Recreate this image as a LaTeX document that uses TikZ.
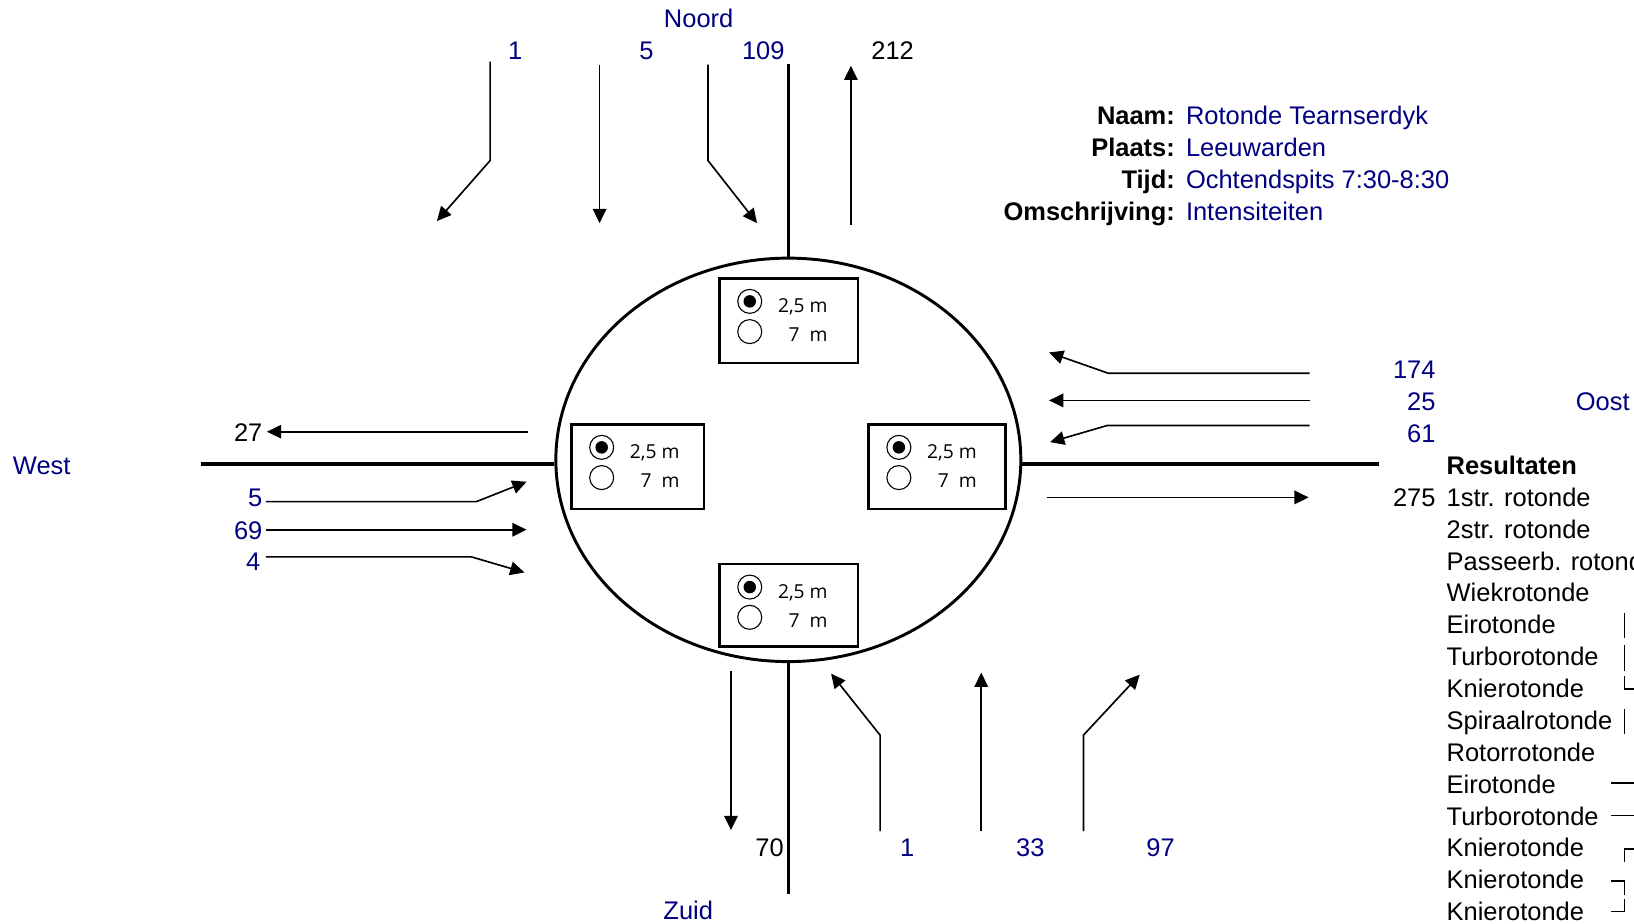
\documentclass[tikz,border=0pt]{standalone}
\usepackage{amsmath, tikz, bm, tkz-euclide}
\usepackage{fontspec}
\setmainfont{Liberation Sans}
\newfontfamily\maatfont{Open Sans}
\usetikzlibrary{arrows.meta, shapes.geometric}
\definecolor{blauw}{RGB}{0,0,128}

\newcommand{\rondje}[1]{%
  \node[radio] (#1a) at ([shift={(29,22)}]#1.north west) {};
  \node[radiodot] at (#1a) {};
  \node[radio] (#1b) at ([shift={(29,51)}]#1.north west) {};
  \node[maat, anchor=base east] at ([shift={(104,32.5)}]#1.north west) {2,5 m};
  \node[maat, anchor=base east] at ([shift={(104,60.5)}]#1.north west) {7\ \ m};
}

\begin{document}
\begin{tikzpicture}[x=0.02cm, y=-0.02cm,
    lbl/.style={font=\fontsize{13.9}{17}\selectfont, inner sep=0pt},
    num/.style={lbl, text=blauw},
    vet/.style={lbl, font=\fontsize{13.9}{17}\selectfont\bfseries},
    weg/.style={line width=1.7pt},
    stroom/.style={line width=0.9pt, -{Triangle[length=7.8pt, width=7.4pt]}},
    vak/.style={draw, line width=1.4pt, inner sep=0pt, outer sep=0pt, minimum height=1.62cm},
    radio/.style={draw, circle, line width=0.6pt, minimum size=0.46cm, inner sep=0pt},
    radiodot/.style={fill, circle, minimum size=0.24cm, inner sep=0pt},
    maat/.style={font=\maatfont\fontsize{10.5}{12}\selectfont, inner sep=0pt},
    teken/.style={line width=0.9pt}]
    \useasboundingbox (0,0) rectangle (1567,886);
    \clip (0,0) rectangle (1567,886);

    % rotonde en wegen
    \node[draw, ellipse, line width=1.6pt, minimum width=8.92cm, minimum height=7.74cm, inner sep=0pt] (ring) at (756,441) {};
    \tkzDefPoints{756/61/Nw, 756/857/Zw, 193/445/Ww, 1322/445/Ow}
    \draw[weg] (ring.north) -- (Nw);
    \draw[weg] (ring.south) -- (Zw);
    \draw[weg] (Ww) -- (Ww -| ring.west);
    \draw[weg] (Ow) -- (Ow -| ring.east);

    % rijstrookbreedtes
    \node[vak, minimum width=2.66cm] (vakN) at (756.5,307.5) {};
    \node[vak, minimum width=2.54cm] (vakW) at (611.5,447.5) {};
    \node[vak, minimum width=2.62cm] (vakO) at (898.5,447.5) {};
    \node[vak, minimum width=2.66cm, minimum height=1.58cm] (vakZ) at (756.5,580.5) {};
    \rondje{vakN}
    \rondje{vakW}
    \rondje{vakO}
    \rondje{vakZ}

    % noord
    \tkzDefPoints{470/59/N1a, 470/154/N1b, 419/212/N1c,
      575/62/N2a, 575/214/N2b,
      679/62/N3a, 679/154/N3b, 726/214/N3c,
      816/216/N4a, 816/63/N4b}
    \draw[stroom] (N1a) -- (N1b) -- (N1c);
    \draw[stroom] (N2a) -- (N2b);
    \draw[stroom] (N3a) -- (N3b) -- (N3c);
    \draw[stroom] (N4a) -- (N4b);
    \node[num, anchor=base] (noord) at (670,26) {Noord};
    \node[num, anchor=base] (lN1) at (494,57) {1};
    \node[num, anchor=base] (lN2) at (620,57) {5};
    \node[num, anchor=base] (lN3) at (732,57) {109};
    \node[lbl, anchor=base] (lN4) at (856,57) {212};

    % oost
    \tkzDefPoints{1256/358/O1a, 1063/358/O1b, 1006/338/O1c,
      1256/384/O2a, 1006/384/O2b,
      1256/408/O3a, 1062/408/O3b, 1007/424/O3c,
      1004/477/O4a, 1255/477/O4b}
    \draw[stroom] (O1a) -- (O1b) -- (O1c);
    \draw[stroom] (O2a) -- (O2b);
    \draw[stroom] (O3a) -- (O3b) -- (O3c);
    \draw[stroom] (O4a) -- (O4b);
    \node[num, anchor=base] (oost) at (1537,394) {Oost};
    \node[num, anchor=base east] (lO1) at (1377,363) {174};
    \node[num, anchor=base east] (lO2) at (1377,394) {25};
    \node[num, anchor=base east] (lO3) at (1377,424) {61};
    \node[lbl, anchor=base east] (lO4) at (1377,486) {275};

    % west
    \tkzDefPoints{506/414/W1a, 256/414/W1b,
      255/481/W2a, 457/481/W2b, 505/462/W2c,
      255/508/W3a, 505/508/W3b,
      255/534/W4a, 452/534/W4b, 503/549/W4c}
    \draw[stroom] (W1a) -- (W1b);
    \draw[stroom] (W2a) -- (W2b) -- (W2c);
    \draw[stroom] (W3a) -- (W3b);
    \draw[stroom] (W4a) -- (W4b) -- (W4c);
    \node[num, anchor=base] (west) at (40,455) {West};
    \node[lbl, anchor=base east] (lW1) at (252,423) {27};
    \node[num, anchor=base east] (lW2) at (252,486) {5};
    \node[num, anchor=base east] (lW3) at (252,517) {69};
    \node[num, anchor=base east] (lW4) at (250,547) {4};

    % zuid
    \tkzDefPoints{701/643/Z1a, 701/796/Z1b,
      844/797/Z2a, 844/705/Z2b, 797/646/Z2c,
      941/797/Z3a, 941/645/Z3b,
      1039/797/Z4a, 1039/705/Z4b, 1093/647/Z4c}
    \draw[stroom] (Z1a) -- (Z1b);
    \draw[stroom] (Z2a) -- (Z2b) -- (Z2c);
    \draw[stroom] (Z3a) -- (Z3b);
    \draw[stroom] (Z4a) -- (Z4b) -- (Z4c);
    \node[num, anchor=base] (zuid) at (660,882) {Zuid};
    \node[lbl, anchor=base east] (lZ1) at (752,821) {70};
    \node[num, anchor=base] (lZ2) at (870,821) {1};
    \node[num, anchor=base] (lZ3) at (988,821) {33};
    \node[num, anchor=base] (lZ4) at (1113,821) {97};

    % kop
    \node[vet, anchor=base east] (naamL) at (1127,119) {Naam:};
    \node[num, anchor=base west] (naam) at (1137,119) {Rotonde Tearnserdyk};
    \node[vet, anchor=base east] (plaatsL) at (1127,150) {Plaats:};
    \node[num, anchor=base west] (plaats) at (1137,150) {Leeuwarden};
    \node[vet, anchor=base east] (tijdL) at (1127,181) {Tijd:};
    \node[num, anchor=base west] (tijd) at (1137,181) {Ochtendspits 7:30-8:30};
    \node[vet, anchor=base east] (omschrL) at (1127,211) {Omschrijving:};
    \node[num, anchor=base west] (omschr) at (1137,211) {Intensiteiten};

    % resultaten
    \node[vet, anchor=base west] (res0) at (1387,455) {Resultaten};
    \foreach \naam [count=\i] in {1str. rotonde, 2str. rotonde, Passeerb. rotonde,
      Wiekrotonde, Eirotonde, Turborotonde, Knierotonde, Spiraalrotonde,
      Rotorrotonde, Eirotonde, Turborotonde, Knierotonde, Knierotonde, Knierotonde}
      \node[lbl, anchor=base west] (res\i) at (1387,{455+30.57*\i}) {\naam};
    \draw[teken] (1558,588) -- (1558,612);
    \draw[teken] (1558,619) -- (1558,643);
    \draw[teken] (1558,648) -- (1558,661) -- (1567,661);
    \draw[teken] (1558,680) -- (1558,704);
    \draw[teken] (1545,751) -- (1567,751);
    \draw[teken] (1545,782) -- (1567,782);
    \draw[teken] (1567,814) -- (1558,814) -- (1558,827);
    \draw[teken] (1545,845) -- (1558,845) -- (1558,858);
    \draw[teken] (1558,862) -- (1558,874) -- (1545,874);
\end{tikzpicture}
\end{document}
